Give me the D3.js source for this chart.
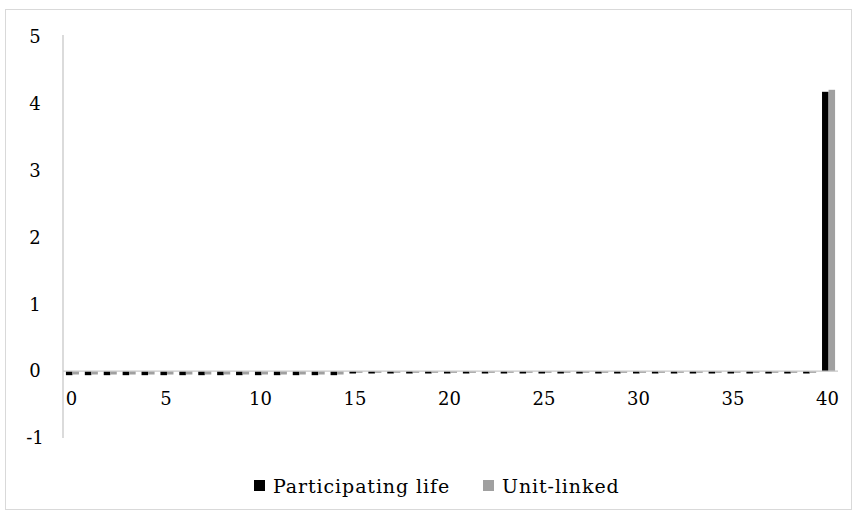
<!DOCTYPE html>
<html><head><meta charset="utf-8">
<script src="https://cdn.jsdelivr.net/npm/d3@7"></script>
<style>body{margin:0;background:#fff}svg{display:block}text{font-family:"DejaVu Serif",serif;fill:#000}</style>
</head><body><svg id="c" width="853" height="512"></svg>
<script>
const categories = d3.range(0, 41);
const participating = [-0.06,-0.06,-0.06,-0.06,-0.06,-0.06,-0.06,-0.06,-0.06,-0.06,-0.06,-0.06,-0.06,-0.06,-0.06,
 -0.035,-0.035,-0.035,-0.035,-0.035,-0.035,-0.035,-0.035,-0.035,-0.035,-0.035,-0.035,-0.035,-0.035,-0.035,
 -0.035,-0.035,-0.035,-0.035,-0.035,-0.035,-0.035,-0.035,-0.035,-0.035, 4.18];
const unitLinked = [-0.05,-0.05,-0.05,-0.05,-0.05,-0.05,-0.05,-0.05,-0.05,-0.05,-0.05,-0.05,-0.05,-0.05,-0.05,
 -0.025,-0.025,-0.025,-0.025,-0.025,-0.025,-0.025,-0.025,-0.025,-0.025,-0.025,-0.025,-0.025,-0.025,-0.025,
 -0.025,-0.025,-0.025,-0.025,-0.025,-0.025,-0.025,-0.025,-0.025,-0.025, 4.21];
const seriesNames = ["Participating life", "Unit-linked"];
const seriesColors = ["#000000", "#a0a0a0"];
const yTicks = [-1,0,1,2,3,4,5];
const xTickLabels = [0,5,10,15,20,25,30,35,40];

(function(){
const svg = d3.select("#c");
svg.append("rect").attr("x",5.5).attr("y",9.5).attr("width",846).attr("height",500)
  .attr("fill","#fff").attr("stroke","#d9d9d9");

const pl=63, pr=838, pt=37, pb=438;
const y = d3.scaleLinear().domain([-1,5]).range([pb, pt]);
const x = d3.scaleBand().domain(categories).range([pl, pr]).paddingInner(0.31).paddingOuter(0.155);
const xs = d3.scaleBand().domain([0,1]).range([0, x.bandwidth()]);

svg.append("g").selectAll("text").data(yTicks).join("text")
  .attr("x",35).attr("y",d=>y(d)).attr("dy","0.35em").attr("text-anchor","middle")
  .style("font-size","18px").text(d=>d);

const series=[participating, unitLinked];
series.forEach((vals,si)=>{
  svg.append("g").selectAll("rect").data(vals).join("rect")
    .attr("x",(d,i)=>x(categories[i])+xs(si))
    .attr("width",xs.bandwidth())
    .attr("y",d=>y(Math.max(0,d)))
    .attr("height",d=>Math.abs(y(d)-y(0)))
    .attr("fill",seriesColors[si]);
});

svg.append("line").attr("x1",pl).attr("x2",pl).attr("y1",pt-2).attr("y2",pb)
  .attr("stroke","#c8c8c8").attr("stroke-width",1.3);
svg.append("line").attr("x1",pl).attr("x2",pr).attr("y1",y(0)).attr("y2",y(0))
  .attr("stroke","#c8c8c8").attr("stroke-width",1.3);

svg.append("g").selectAll("text").data(xTickLabels).join("text")
  .attr("x",d=>x(d)+x.bandwidth()/2 - 1).attr("y",399).attr("dy","0.35em").attr("text-anchor","middle")
  .style("font-size","18px").text(d=>d);

const leg = svg.append("g");
const legX=[254,483];
seriesNames.forEach((n,i)=>{
  leg.append("rect").attr("x",legX[i]).attr("y",480).attr("width",11).attr("height",11).attr("fill",seriesColors[i]);
  leg.append("text").attr("x",legX[i]+19).attr("y",486).attr("dy","0.35em")
    .style("font-size","19px").style("letter-spacing","0.9px").text(n);
});
})();
</script></body></html>
